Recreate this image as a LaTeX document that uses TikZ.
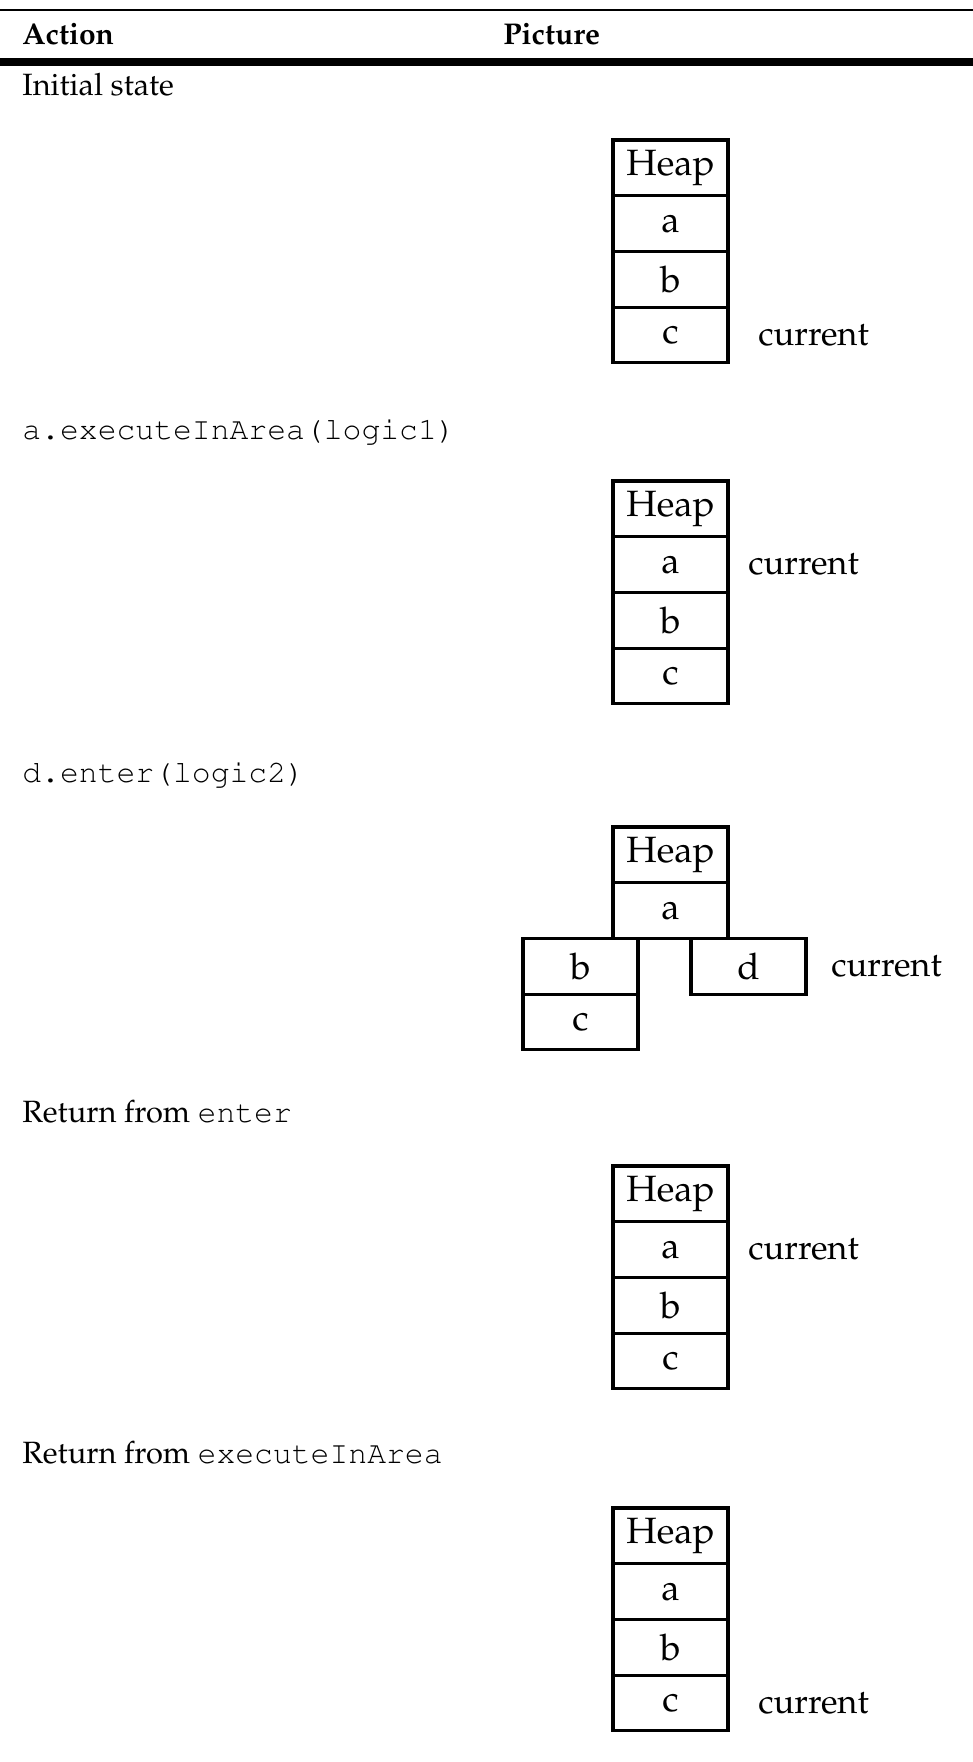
\documentclass[tikz,border=0pt]{standalone}
\usepackage[T1]{fontenc}
\renewcommand{\rmdefault}{ppl}
\renewcommand{\ttdefault}{pcr}

\begin{document}
\begin{tikzpicture}[x=0.5pt,y=-0.5pt,
        cell/.style={draw, line width=1.6pt, minimum width=57.5pt, minimum height=27.85pt,
            inner sep=0pt, outer sep=0pt, font=\fontsize{18.3}{21}\selectfont},
        note/.style={anchor=west, inner sep=0pt, font=\fontsize{17.2}{20}\selectfont},
        action/.style={anchor=base west, inner sep=0pt, font=\fontsize{15.4}{18}\selectfont},
        head/.style={anchor=base west, inner sep=0pt, font=\fontsize{15}{18}\selectfont\bfseries}]
        \newcommand{\cx}{670.5}
        \newcommand{\code}[1]{{\fontsize{15.7}{18}\selectfont\ttfamily #1}}
        \useasboundingbox (0,0) rectangle (973,1762);

        \draw[line width=1pt] (0,10) -- (973,10); %top rule
        \node[head] (act) at (22,44) {Action};
        \node[head] (pic) at (503,44) {Picture};
        \draw[line width=4pt] (0,62) -- (973,62); %header rule

        % initial state
        \node[action] (s1) at (22,95) {Initial state};
        \node[cell, anchor=north] (h1) at (\cx,140) {Heap};
        \node[cell, anchor=north] (a1) at (h1.south) {a};
        \node[cell, anchor=north] (b1) at (a1.south) {b};
        \node[cell, anchor=north] (c1) at (b1.south) {c};
        \node[note, xshift=15pt] (cur1) at (c1.east) {current};

        % executeInArea
        \node[action] (s2) at (22,439) {\code{a.executeInArea(logic1)}};
        \node[cell, anchor=north] (h2) at (\cx,481) {Heap};
        \node[cell, anchor=north] (a2) at (h2.south) {a};
        \node[cell, anchor=north] (b2) at (a2.south) {b};
        \node[cell, anchor=north] (c2) at (b2.south) {c};
        \node[note, xshift=10pt] (cur2) at (a2.east) {current};

        % enter
        \node[action] (s3) at (22,782) {\code{d.enter(logic2)}};
        \node[cell, anchor=north] (h3) at (\cx,827) {Heap};
        \node[cell, anchor=north] (a3) at (h3.south) {a};
        \node[cell, anchor=north east, xshift=12.5pt] (b3) at (a3.south west) {b};
        \node[cell, anchor=north] (c3) at (b3.south) {c};
        \node[cell, anchor=north west, xshift=-18.5pt] (d3) at (a3.south east) {d};
        \node[note, xshift=12.5pt] (cur3) at (d3.east) {current};

        % return from enter
        \node[action] (s4) at (22,1122) {Return from \code{enter}};
        \node[cell, anchor=north] (h4) at (\cx,1166) {Heap};
        \node[cell, anchor=north] (a4) at (h4.south) {a};
        \node[cell, anchor=north] (b4) at (a4.south) {b};
        \node[cell, anchor=north] (c4) at (b4.south) {c};
        \node[note, xshift=10pt] (cur4) at (a4.east) {current};

        % return from executeInArea
        \node[action] (s5) at (22,1463) {Return from \code{executeInArea}};
        \node[cell, anchor=north] (h5) at (\cx,1508) {Heap};
        \node[cell, anchor=north] (a5) at (h5.south) {a};
        \node[cell, anchor=north] (b5) at (a5.south) {b};
        \node[cell, anchor=north] (c5) at (b5.south) {c};
        \node[note, xshift=15pt] (cur5) at (c5.east) {current};
\end{tikzpicture}
\end{document}
